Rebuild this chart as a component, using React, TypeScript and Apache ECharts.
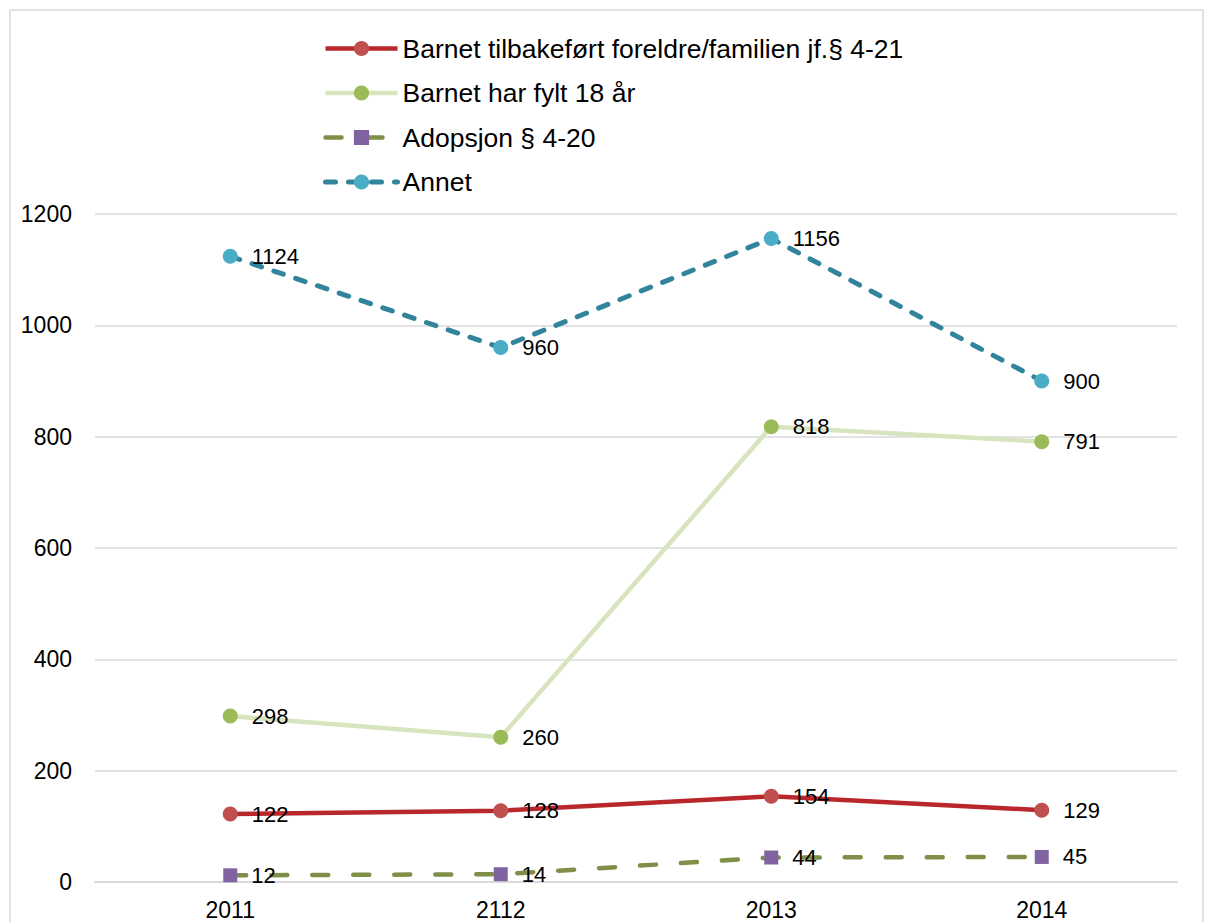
import React, { useEffect, useRef } from "react";
import * as echarts from "echarts";

const categories = ["2011", "2112", "2013", "2014"];
const tilbakefort = [122, 128, 154, 129];
const fylt18 = [298, 260, 818, 791];
const adopsjon = [12, 14, 44, 45];
const annet = [1124, 960, 1156, 900];
const seriesNames = [
  "Barnet tilbakeført foreldre/familien jf.§ 4-21",
  "Barnet har fylt 18 år",
  "Adopsjon § 4-20",
  "Annet",
];

const FONT = "'Liberation Sans', Arial, sans-serif";

export default function App() {
  const ref = useRef<HTMLDivElement>(null);
  useEffect(() => {
    document.body.style.margin = "0";
    const chart = echarts.init(ref.current!, null, { renderer: "svg" });
    const label = {
      show: true,
      position: "right" as const,
      distance: 14,
      color: "#000",
      fontSize: 22,
      fontFamily: FONT,
    };
    chart.setOption({
      animation: false,
      backgroundColor: "#fff",
      textStyle: { fontFamily: FONT },
      graphic: [
        {
          type: "rect",
          shape: { x: 10, y: 10, width: 1193, height: 930 },
          style: { fill: "none", stroke: "#d9d9d9", lineWidth: 1.5 },
          silent: true,
        },
      ],
      legend: {
        orient: "vertical",
        left: 318,
        top: 30,
        itemWidth: 72,
        itemHeight: 19,
        itemGap: 17.5,
        lineStyle: { width: "inherit" },
        textStyle: { fontSize: 26.5, color: "#000", fontFamily: FONT },
        data: seriesNames,
      },
      grid: { left: 95, right: 28, top: 214, bottom: 40, containLabel: false },
      xAxis: {
        type: "category",
        data: categories,
        boundaryGap: true,
        axisLine: { lineStyle: { color: "#d9d9d9", width: 2 } },
        axisTick: { show: false },
        axisLabel: { color: "#000", fontSize: 23, margin: 16, fontFamily: FONT },
      },
      yAxis: {
        type: "value",
        min: 0,
        max: 1200,
        interval: 200,
        axisLine: { show: false },
        axisTick: { show: false },
        splitLine: { lineStyle: { color: "#d9d9d9", width: 1.5 } },
        axisLabel: {
          color: "#000",
          fontSize: 23,
          margin: 23,
          fontFamily: FONT,
          formatter: (v: number) => String(v),
        },
      },
      series: [
        {
          name: seriesNames[0],
          type: "line",
          data: tilbakefort,
          symbol: "circle",
          symbolSize: 15,
          itemStyle: { color: "#C0504D" },
          lineStyle: { color: "#B9272B", width: 4.5 },
          label,
          z: 4,
        },
        {
          name: seriesNames[1],
          type: "line",
          data: fylt18,
          symbol: "circle",
          symbolSize: 15,
          itemStyle: { color: "#9BBB59" },
          lineStyle: { color: "#D7E4BD", width: 4.5 },
          label,
          z: 3,
        },
        {
          name: seriesNames[2],
          type: "line",
          data: adopsjon,
          symbol: "rect",
          symbolSize: 14,
          itemStyle: { color: "#8064A2" },
          lineStyle: { color: "#7F8F48", width: 4.5, type: [16, 25], cap: "round" },
          label,
          z: 2,
        },
        {
          name: seriesNames[3],
          type: "line",
          data: annet,
          symbol: "circle",
          symbolSize: 15,
          itemStyle: { color: "#4BACC6" },
          lineStyle: { color: "#31849B", width: 5, type: [10, 13], cap: "round" },
          label,
          z: 5,
        },
      ],
    });
    return () => chart.dispose();
  }, []);
  return (
    <div
      ref={ref}
      style={{ position: "absolute", left: 0, top: 0, width: 1205, height: 922 }}
    />
  );
}
